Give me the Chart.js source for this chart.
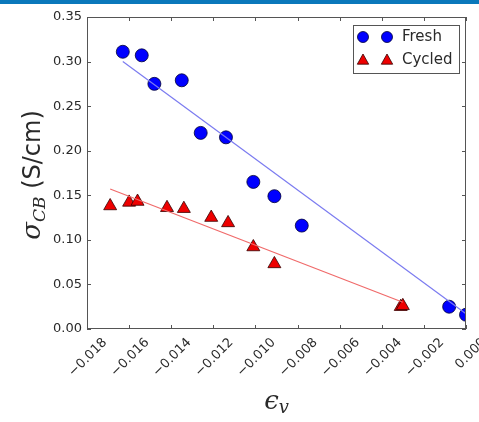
<!DOCTYPE html>
<html>
<head>
<meta charset="utf-8">
<script src="https://cdn.jsdelivr.net/npm/chart.js@4"></script>
<style>
    html, body { margin: 0; padding: 0; background: #ffffff; }
    #wrap { position: relative; width: 479px; height: 422px; }
    #topbar { position: absolute; left: 0; top: 0; width: 479px; height: 4px; background: #0a78bb; }
</style>
</head>
<body>
<div id="wrap">
    <canvas id="strainChart" width="479" height="422"></canvas>
    <div id="topbar"></div>
</div>
<script>
// Conductivity vs volumetric strain
const freshX = [-0.0163, -0.0154, -0.0148, -0.0135, -0.0126, -0.0114, -0.0101, -0.0091, -0.0078, -0.0008, 0.0000];
const freshY = [0.311, 0.307, 0.275, 0.279, 0.220, 0.215, 0.165, 0.149, 0.116, 0.025, 0.016];
const cycledX = [-0.0169, -0.0160, -0.0156, -0.0142, -0.0134, -0.0121, -0.0113, -0.0101, -0.0091, -0.0031, -0.0030];
const cycledY = [0.138, 0.142, 0.143, 0.136, 0.135, 0.125, 0.119, 0.092, 0.073, 0.025, 0.026];

// linear fits (end points)
const freshFitX = [-0.0163, 0.0000];
const freshFitY = [0.300, 0.017];
const cycledFitX = [-0.0169, -0.0030];
const cycledFitY = [0.157, 0.030];

const xTicks = [-0.018, -0.016, -0.014, -0.012, -0.010, -0.008, -0.006, -0.004, -0.002, 0.000];
const yTicks = [0.00, 0.05, 0.10, 0.15, 0.20, 0.25, 0.30, 0.35];
const legendLabels = ['Fresh', 'Cycled'];

const colors = {
    blue: '#0000ff',
    red: '#ee0000',
    fitBlue: '#7b7bf0',
    fitRed: '#f06a6a',
    frame: '#555555',
    text: '#2a2a2a'
};

function toPoints(xs, ys) {
    return xs.map((x, i) => ({ x: x, y: ys[i] }));
}

function fmtX(v) {
    if (Math.abs(v) < 1e-9) return '0.000';
    return v.toFixed(3).replace('-', '\u2212');
}

// frame + inward ticks on all four sides
const framePlugin = {
    id: 'frame',
    afterDraw(chart) {
        const ctx = chart.ctx;
        const a = chart.chartArea;
        const xs = chart.scales.x, ys = chart.scales.y;
        ctx.save();
        ctx.strokeStyle = colors.frame;
        ctx.lineWidth = 1;
        ctx.strokeRect(a.left + 0.5, a.top + 0.5, a.right - a.left - 1, a.bottom - a.top - 1);
        ctx.beginPath();
        xTicks.forEach(t => {
            const px = Math.round(xs.getPixelForValue(t)) + 0.5;
            ctx.moveTo(px, a.bottom); ctx.lineTo(px, a.bottom - 4);
            ctx.moveTo(px, a.top); ctx.lineTo(px, a.top + 4);
        });
        yTicks.forEach(t => {
            const py = Math.round(ys.getPixelForValue(t)) + 0.5;
            ctx.moveTo(a.left, py); ctx.lineTo(a.left + 4, py);
            ctx.moveTo(a.right, py); ctx.lineTo(a.right - 4, py);
        });
        ctx.stroke();
        ctx.restore();
    }
};

function drawCircle(ctx, x, y, r, fill) {
    ctx.beginPath();
    ctx.arc(x, y, r, 0, Math.PI * 2);
    ctx.fillStyle = fill;
    ctx.fill();
    ctx.strokeStyle = '#000033';
    ctx.lineWidth = 0.8;
    ctx.stroke();
}

function drawTri(ctx, x, y, r, fill) {
    ctx.beginPath();
    ctx.moveTo(x, y - r);
    ctx.lineTo(x + r * 0.95, y + r * 0.7);
    ctx.lineTo(x - r * 0.95, y + r * 0.7);
    ctx.closePath();
    ctx.fillStyle = fill;
    ctx.fill();
    ctx.strokeStyle = '#330000';
    ctx.lineWidth = 0.8;
    ctx.stroke();
}

// legend box with two markers per entry, axis titles with math-style text
const annotPlugin = {
    id: 'annot',
    afterDraw(chart) {
        const ctx = chart.ctx;
        const a = chart.chartArea;
        ctx.save();

        // legend
        const bx = a.right - 113, by = a.top + 8, bw = 106, bh = 48;
        ctx.fillStyle = '#ffffff';
        ctx.fillRect(bx, by, bw, bh);
        ctx.strokeStyle = colors.frame;
        ctx.lineWidth = 1;
        ctx.strokeRect(bx + 0.5, by + 0.5, bw, bh);
        ctx.font = '15px "DejaVu Sans"';
        ctx.textBaseline = 'middle';
        ctx.textAlign = 'left';
        drawCircle(ctx, bx + 10, by + 12, 5.5, colors.blue);
        drawCircle(ctx, bx + 34, by + 12, 5.5, colors.blue);
        ctx.fillStyle = colors.text;
        ctx.fillText(legendLabels[0], bx + 49, by + 12);
        drawTri(ctx, bx + 10, by + 35, 6, colors.red);
        drawTri(ctx, bx + 34, by + 35, 6, colors.red);
        ctx.fillStyle = colors.text;
        ctx.fillText(legendLabels[1], bx + 49, by + 35);

        // y title: sigma_CB (S/cm)
        const cy = (a.top + a.bottom) / 2 + 2;
        ctx.translate(32, cy);
        ctx.rotate(-Math.PI / 2);
        const f1 = 'italic 26px "DejaVu Serif"';
        const f2 = 'italic 17px "DejaVu Serif"';
        const f3 = '24px "DejaVu Sans"';
        ctx.font = f1; const w1 = ctx.measureText('\u03c3').width;
        ctx.font = f2; const w2 = ctx.measureText('CB').width;
        ctx.font = f3; const w3 = ctx.measureText(' (S/cm)').width;
        let x0 = -(w1 + w2 + w3) / 2;
        ctx.fillStyle = colors.text;
        ctx.textBaseline = 'alphabetic';
        ctx.font = f1; ctx.fillText('\u03c3', x0, 8);
        ctx.font = f2; ctx.fillText('CB', x0 + w1, 13);
        ctx.font = f3; ctx.fillText(' (S/cm)', x0 + w1 + w2, 8);
        ctx.setTransform(1, 0, 0, 1, 0, 0);

        // x title: epsilon_v
        const cx = (a.left + a.right) / 2;
        ctx.font = 'italic 26px "DejaVu Serif"';
        const e1 = ctx.measureText('\u03f5').width;
        ctx.font = 'italic 18px "DejaVu Serif"';
        const e2 = ctx.measureText('v').width;
        const sx = cx - (e1 + e2) / 2;
        ctx.font = 'italic 26px "DejaVu Serif"';
        ctx.fillText('\u03f5', sx, 409);
        ctx.font = 'italic 18px "DejaVu Serif"';
        ctx.fillText('v', sx + e1, 413);
        ctx.restore();
    }
};

const ctx = document.getElementById('strainChart');
new Chart(ctx, {
    type: 'scatter',
    data: {
        datasets: [{
            label: 'Fresh fit',
            data: toPoints(freshFitX, freshFitY),
            showLine: true,
            borderColor: colors.fitBlue,
            borderWidth: 1.2,
            pointRadius: 0,
            clip: 0
        }, {
            label: 'Cycled fit',
            data: toPoints(cycledFitX, cycledFitY),
            showLine: true,
            borderColor: colors.fitRed,
            borderWidth: 1.2,
            pointRadius: 0,
            clip: 0
        }, {
            label: 'Fresh',
            data: toPoints(freshX, freshY),
            pointStyle: 'circle',
            pointRadius: 6.5,
            backgroundColor: colors.blue,
            borderColor: '#000033',
            borderWidth: 0.8,
            clip: 0
        }, {
            label: 'Cycled',
            data: toPoints(cycledX, cycledY),
            pointStyle: 'triangle',
            pointRadius: 7.5,
            backgroundColor: colors.red,
            borderColor: '#330000',
            borderWidth: 0.8,
            clip: 0
        }]
    },
    options: {
        responsive: false,
        animation: false,
        layout: { padding: { left: 0, right: 13, top: 17, bottom: 0 } },
        plugins: {
            legend: { display: false },
            tooltip: { enabled: false }
        },
        scales: {
            x: {
                type: 'linear',
                min: -0.018,
                max: 0,
                afterBuildTicks: s => { s.ticks = xTicks.map(v => ({ value: v })); },
                afterFit: s => { s.height = 93; s.paddingRight = 0; s.paddingLeft = 0; },
                grid: { display: false, drawTicks: false },
                border: { display: false },
                ticks: {
                    color: colors.text,
                    font: { family: 'DejaVu Sans', size: 13 },
                    minRotation: 45,
                    maxRotation: 45,
                    labelOffset: 18,
                    padding: 6,
                    callback: v => fmtX(v)
                }
            },
            y: {
                type: 'linear',
                min: 0,
                max: 0.35,
                afterBuildTicks: s => { s.ticks = yTicks.map(v => ({ value: v })); },
                afterFit: s => { s.width = 87; s.paddingTop = 0; s.paddingBottom = 0; },
                grid: { display: false, drawTicks: false },
                border: { display: false },
                ticks: {
                    color: colors.text,
                    font: { family: 'DejaVu Sans', size: 13 },
                    padding: 5,
                    callback: v => v.toFixed(2)
                }
            }
        }
    },
    plugins: [framePlugin, annotPlugin]
});
</script>
</body>
</html>
